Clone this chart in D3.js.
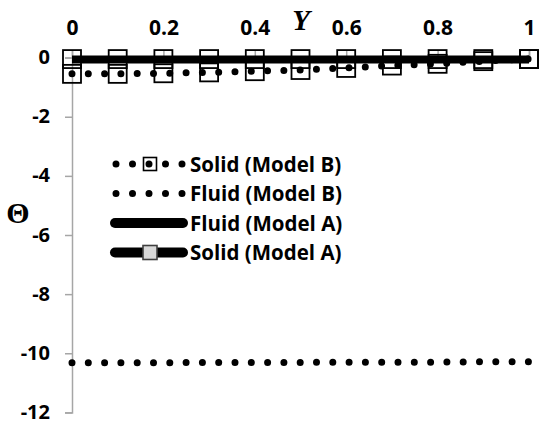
<!DOCTYPE html>
<html>
<head>
<meta charset="utf-8">
<script src="https://cdn.jsdelivr.net/npm/d3@7"></script>
<style>
  html, body { margin: 0; padding: 0; background: #fff; }
  svg { display: block; }
  .tick text { font-family: "Open Sans", Lato, sans-serif; font-weight: 700; fill: #000; }
</style>
</head>
<body>
<div id="chart"></div>
<script>
// Dimensionless position across the channel
const positions = [0, 0.1, 0.2, 0.3, 0.4, 0.5, 0.6, 0.7, 0.8, 0.9, 1];

// Temperature profiles Θ(Y)
const solidModelB = [-0.55, -0.55, -0.53, -0.50, -0.46, -0.42, -0.35, -0.27, -0.21, -0.12, -0.05];
const fluidModelB = [-10.32, -10.32, -10.32, -10.31, -10.31, -10.31, -10.30, -10.30, -10.30, -10.29, -10.29];
const fluidModelA = [-0.08, -0.08, -0.08, -0.08, -0.08, -0.08, -0.08, -0.08, -0.08, -0.08, -0.08];
const solidModelA = [-0.05, -0.05, -0.05, -0.05, -0.05, -0.05, -0.05, -0.05, -0.05, -0.05, -0.05];

// Axis ticks
const xTicks = [0, 0.2, 0.4, 0.6, 0.8, 1];
const yTicks = [0, -2, -4, -6, -8, -10, -12];

// Legend entries in display order
const legendLabels = ["Solid (Model B)", "Fluid (Model B)", "Fluid (Model A)", "Solid (Model A)"];

const W = 543, H = 424;
const svg = d3.select("#chart").append("svg").attr("width", W).attr("height", H);

const x = d3.scaleLinear().domain([0, 1]).range([72, 529]);
const y = d3.scaleLinear().domain([0, -12]).range([57.6, 412.4]);

const axisColor = "#a6a6a6";

// Horizontal axis along Θ = 0 with labels above
const xAxis = svg.append("g")
  .attr("transform", `translate(0,${y(0)})`)
  .call(d3.axisTop(x).tickValues(xTicks).tickSize(7).tickPadding(16)
    .tickFormat(d => String(d)));
xAxis.select(".domain").attr("stroke", axisColor).attr("stroke-width", 1.5);
xAxis.selectAll(".tick line").attr("stroke", axisColor).attr("stroke-width", 1.5);
xAxis.selectAll(".tick text").attr("font-size", 21).attr("dy", 0).attr("y", -22.6);

// Vertical axis at Y = 0
const yAxis = svg.append("g")
  .attr("transform", `translate(${x(0)},0)`)
  .call(d3.axisLeft(y).tickValues(yTicks).tickSize(7).tickPadding(16)
    .tickFormat(d => String(d)));
yAxis.select(".domain").attr("stroke", axisColor).attr("stroke-width", 1.5);
yAxis.selectAll(".tick line").attr("stroke", axisColor).attr("stroke-width", 1.5);
yAxis.selectAll(".tick text").attr("font-size", 20).attr("dy", "0.3em").attr("x", -22);

// Axis titles
svg.append("text")
  .attr("x", 301).attr("y", 30)
  .attr("text-anchor", "middle")
  .attr("font-family", "'Liberation Serif', 'DejaVu Serif', serif")
  .attr("font-style", "italic")
  .attr("font-weight", 700)
  .attr("font-size", 29)
  .text("Y");

svg.append("text")
  .attr("x", 18).attr("y", 223)
  .attr("text-anchor", "middle")
  .attr("font-family", "'Liberation Serif', 'DejaVu Serif', serif")
  .attr("font-weight", 700)
  .attr("font-size", 30)
  .text("Θ");

const pts = arr => positions.map((p, i) => [x(p), y(arr[i])]);
const line = d3.line();
const DOT_GAP = 16.3;

function dotted(g, arr) {
  g.append("path")
    .attr("d", line(pts(arr)))
    .attr("fill", "none")
    .attr("stroke", "#000")
    .attr("stroke-width", 7)
    .attr("stroke-linecap", "round")
    .attr("stroke-dasharray", `0 ${DOT_GAP}`);
}

function squares(g, arr, size) {
  g.selectAll(null).data(pts(arr)).join("rect")
    .attr("x", d => d[0] - size / 2)
    .attr("y", d => d[1] - size / 2)
    .attr("width", size).attr("height", size)
    .attr("fill", "none")
    .attr("stroke", "#000")
    .attr("stroke-width", 1.8);
}

const plot = svg.append("g");

// Model B (dotted)
dotted(plot, fluidModelB);
dotted(plot, solidModelB);
squares(plot, solidModelB, 18);

// Model A (thick solid)
plot.append("path")
  .attr("d", line(pts(fluidModelA)))
  .attr("fill", "none").attr("stroke", "#000").attr("stroke-width", 7);
plot.append("path")
  .attr("d", line(pts(solidModelA)))
  .attr("fill", "none").attr("stroke", "#000").attr("stroke-width", 7);
squares(plot, solidModelA, 18);

// Legend
const legend = svg.append("g");
const rowY = [164, 193.5, 223, 252.5];
const lx0 = 116, lx1 = 182;

legendLabels.forEach((label, i) => {
  const g = legend.append("g");
  const yy = rowY[i];
  if (i < 2) {
    g.append("path")
      .attr("d", `M${lx0},${yy}H${lx1 + 1}`)
      .attr("stroke", "#000").attr("stroke-width", 7)
      .attr("stroke-linecap", "round")
      .attr("stroke-dasharray", `0 ${(lx1 - lx0) / 4}`);
  } else {
    g.append("path")
      .attr("d", `M${lx0 - 1},${yy}H${lx1 + 1}`)
      .attr("stroke", "#000").attr("stroke-width", 10)
      .attr("stroke-linecap", "round");
  }
  if (i === 0) {
    g.append("rect").attr("x", 143.5).attr("y", yy - 6.5).attr("width", 13).attr("height", 13)
      .attr("fill", "none").attr("stroke", "#000").attr("stroke-width", 1.6);
  }
  if (i === 3) {
    g.append("rect").attr("x", 143).attr("y", yy - 7).attr("width", 14).attr("height", 14)
      .attr("fill", "#d9d9d9").attr("stroke", "#404040").attr("stroke-width", 1.6);
  }
  g.append("text")
    .attr("x", 190).attr("y", yy + 7.5)
    .attr("font-family", "'Open Sans', Lato, sans-serif")
    .attr("font-weight", 700)
    .attr("font-size", 20.5)
    .text(label);
});
</script>
</body>
</html>
